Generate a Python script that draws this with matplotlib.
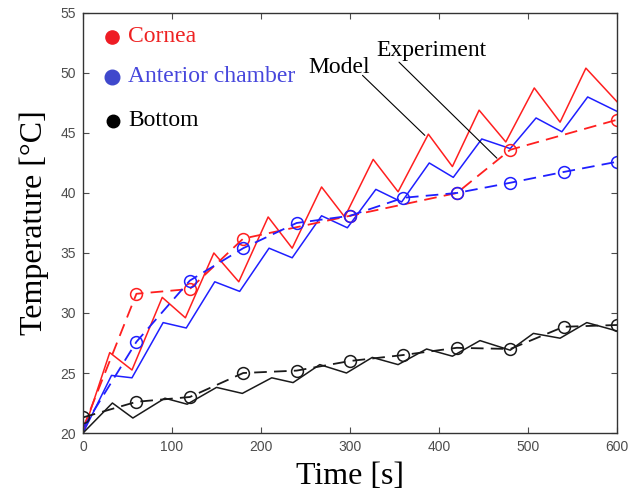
import numpy as np
import matplotlib.pyplot as plt

plt.rcParams['font.family'] = ['Liberation Serif', 'DejaVu Serif']

# Model curves (solid)
t_cornea_mod = [0, 30, 55, 89, 115, 147, 175, 208, 235, 268, 294, 326, 354, 388, 415, 445, 475, 507, 536, 565, 600]
T_cornea_mod = [20, 26.7, 25.25, 31.3, 29.6, 35.0, 32.6, 38.0, 35.4, 40.5, 38.0, 42.8, 40.1, 44.9, 42.2, 46.9, 44.25, 48.75, 45.9, 50.4, 47.6]

t_ant_mod = [0, 32, 55, 90, 116, 148, 176, 209, 235, 268, 297, 329, 358, 389, 416, 448, 480, 509, 538, 567, 600]
T_ant_mod = [20, 24.8, 24.6, 29.2, 28.75, 32.6, 31.8, 35.4, 34.6, 38.1, 37.1, 40.3, 39.25, 42.5, 41.3, 44.5, 43.7, 46.25, 45.1, 48.0, 46.8]

t_bot_mod = [0, 33, 56, 92, 117, 150, 179, 212, 236, 266, 296, 325, 354, 386, 415, 446, 480, 506, 536, 566, 600]
T_bot_mod = [20, 22.5, 21.25, 22.9, 22.4, 23.8, 23.3, 24.6, 24.2, 25.7, 25.0, 26.3, 25.7, 27.0, 26.4, 27.7, 26.9, 28.3, 27.9, 29.2, 28.5]

# Measurements (dashed with circles)
t_cornea_exp = [0, 60, 120, 180, 300, 420, 480, 600]
T_cornea_exp = [20.4, 31.6, 32.0, 36.2, 38.1, 40.0, 43.6, 46.1]

t_exp = [0, 60, 120, 180, 240, 300, 360, 420, 480, 540, 600]
T_ant_exp = [20.4, 27.6, 32.7, 35.4, 37.5, 38.1, 39.6, 40.0, 40.85, 41.75, 42.6]
T_bot_exp = [21.3, 22.6, 23.0, 25.0, 25.2, 26.0, 26.5, 27.1, 27.0, 28.85, 29.0]

red = '#ff1f1f'
blue = '#1f1fff'
black = '#1a1a1a'

fig = plt.figure(figsize=(6.29, 4.98), dpi=100)
ax = fig.add_axes([0.132, 0.1305, 0.849, 0.8435])

lw = 1.1
ax.plot(t_cornea_mod, T_cornea_mod, color=red, lw=lw)
ax.plot(t_ant_mod, T_ant_mod, color=blue, lw=lw)
ax.plot(t_bot_mod, T_bot_mod, color=black, lw=lw)

mk = dict(marker='o', markersize=8.5, mfc='none', mew=1.1, lw=1.3, dashes=(7, 4))
ax.plot(t_cornea_exp, T_cornea_exp, color=red, markevery=slice(1, None), **mk)
ax.plot(t_exp, T_ant_exp, color=blue, markevery=slice(1, None), **mk)
ax.plot(t_exp, T_bot_exp, color=black, **mk)

# hand-made legend
ax.plot([33], [53.0], 'o', color='#ee1c24', markersize=9.5)
ax.plot([33], [49.7], 'o', color='#3f48cc', markersize=10.5)
ax.plot([34], [46.0], 'o', color='black', markersize=9)
ax.text(50, 53.0, 'Cornea', color='#ee2222', fontsize=17, va='center')
ax.text(50, 49.7, 'Anterior chamber', color='#4646dc', fontsize=17, va='center')
ax.text(51, 46.0, 'Bottom', color='black', fontsize=17, va='center')

# labels with leader lines
ax.text(253, 50.0, 'Model', fontsize=17, ha='left', va='baseline')
ax.text(330, 51.4, 'Experiment', fontsize=17, ha='left', va='baseline')
leader = dict(arrowstyle='-', color='black', lw=0.8, shrinkA=0, shrinkB=0)
ax.annotate('', xy=(384, 44.8), xytext=(314, 49.8), arrowprops=leader)
ax.annotate('', xy=(465, 42.9), xytext=(355, 50.9), arrowprops=leader)

ax.set_xlim(0, 600)
ax.set_ylim(20, 55)
ax.set_xticks(np.arange(0, 601, 100))
ax.set_yticks(np.arange(20, 56, 5))
ax.tick_params(direction='in', length=4.5, top=True, right=True, colors='#4d4d4d',
               labelsize=10, pad=5)
for lab in ax.get_xticklabels() + ax.get_yticklabels():
    lab.set_family('Liberation Sans')
for s in ax.spines.values():
    s.set_color('#333333')
    s.set_linewidth(1.0)

ax.set_xlabel('Time [s]', fontsize=23, labelpad=6)
ax.set_ylabel('Temperature [°C]', fontsize=23, labelpad=8)

fig.savefig('out.png', dpi=100)
